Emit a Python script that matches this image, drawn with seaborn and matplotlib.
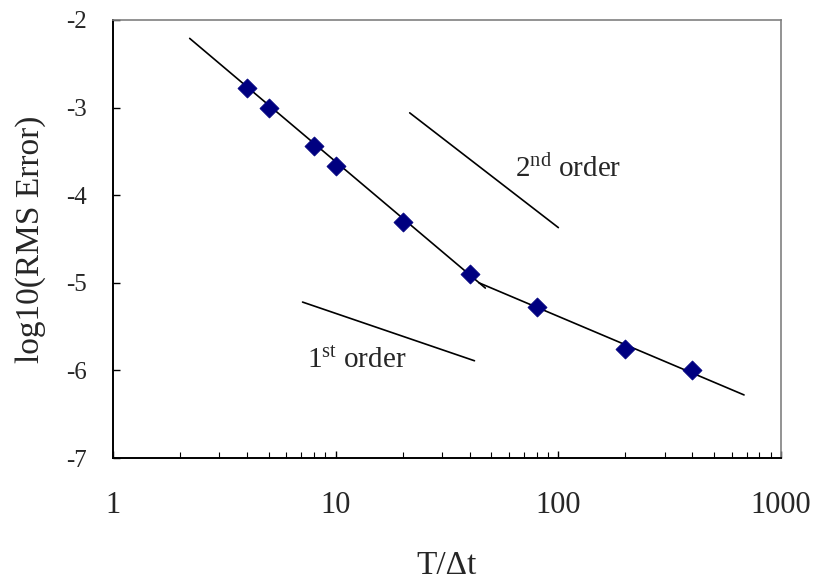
import matplotlib
matplotlib.use("Agg")
import matplotlib.pyplot as plt
import seaborn as sns
import pandas as pd
from matplotlib.ticker import LogLocator, NullFormatter, FixedLocator

# Measured error versus number of time steps
steps = [4, 5, 8, 10, 20, 40, 80, 200, 400]
log_err = [-2.78, -3.00, -3.44, -3.67, -4.31, -4.90, -5.28, -5.76, -5.99]

# Fitted trend lines through the two regimes
fit_a_x = [2.21, 47.0]
fit_a_y = [-2.21, -5.06]
fit_b_x = [44.0, 682.0]
fit_b_y = [-5.00, -6.28]

# Reference slopes
ref2_x = [21.5, 100.0]
ref2_y = [-3.06, -4.37]
ref1_x = [7.1, 42.0]
ref1_y = [-5.22, -5.89]

y_ticks = [-7, -6, -5, -4, -3, -2]
x_tick_labels = ["1", "10", "100", "1000"]

sns.set_style("ticks")
plt.rcParams["font.family"] = ["Liberation Serif", "DejaVu Serif"]
plt.rcParams["mathtext.fontset"] = "custom"
plt.rcParams["mathtext.rm"] = "Liberation Serif"
plt.rcParams["mathtext.it"] = "Liberation Serif:italic"

fig = plt.figure(figsize=(8.17, 5.83), dpi=100)
ax = fig.add_axes([0.1383, 0.2144, 0.8177, 0.7513])

pts = pd.DataFrame({"steps": steps, "err": log_err})
segments = pd.concat([
    pd.DataFrame({"x": fit_a_x, "y": fit_a_y, "seg": "fit_a"}),
    pd.DataFrame({"x": fit_b_x, "y": fit_b_y, "seg": "fit_b"}),
    pd.DataFrame({"x": ref2_x, "y": ref2_y, "seg": "ref2"}),
    pd.DataFrame({"x": ref1_x, "y": ref1_y, "seg": "ref1"}),
], ignore_index=True)

sns.lineplot(data=segments, x="x", y="y", units="seg", estimator=None,
             sort=False, color="black", linewidth=1.2, ax=ax, zorder=2)
sns.scatterplot(data=pts, x="steps", y="err", marker="D", s=95,
                color="#000080", edgecolor="#000080", linewidth=0.5,
                ax=ax, zorder=3)

ax.set_xscale("log")
ax.set_xlim(1, 1000)
ax.set_ylim(-7, -2)

ax.xaxis.set_major_locator(FixedLocator([1, 10, 100, 1000]))
ax.set_xticklabels(x_tick_labels)
ax.xaxis.set_minor_locator(LogLocator(base=10, subs=range(2, 10)))
ax.xaxis.set_minor_formatter(NullFormatter())
ax.set_yticks(y_ticks)
ax.set_yticklabels([str(v) for v in y_ticks])

ax.tick_params(axis="x", which="major", direction="in", length=5, width=1,
               pad=24, labelsize=22, color="black")
ax.tick_params(axis="x", which="minor", direction="in", length=4, width=0.8,
               color="black")
ax.tick_params(axis="y", which="major", direction="in", length=5, width=1,
               pad=19, labelsize=18, color="black")
ax.tick_params(axis="y", which="minor", left=False)

for side in ["left", "bottom"]:
    ax.spines[side].set_color("black")
    ax.spines[side].set_linewidth(1.4)
for side in ["top", "right"]:
    ax.spines[side].set_visible(True)
    ax.spines[side].set_color("#808080")
    ax.spines[side].set_linewidth(1.2)

ax.set_xlabel("T/Δt", fontsize=24, labelpad=22)
ax.set_ylabel("log10(RMS Error)", fontsize=24, labelpad=14)

ax.text(63.9, -3.79, r"2$^{\mathrm{nd}}$ order", fontsize=21,
        ha="left", va="baseline")
ax.text(7.43, -5.97, r"1$^{\mathrm{st}}$ order", fontsize=21,
        ha="left", va="baseline")

fig.savefig("out.png", dpi=100)
